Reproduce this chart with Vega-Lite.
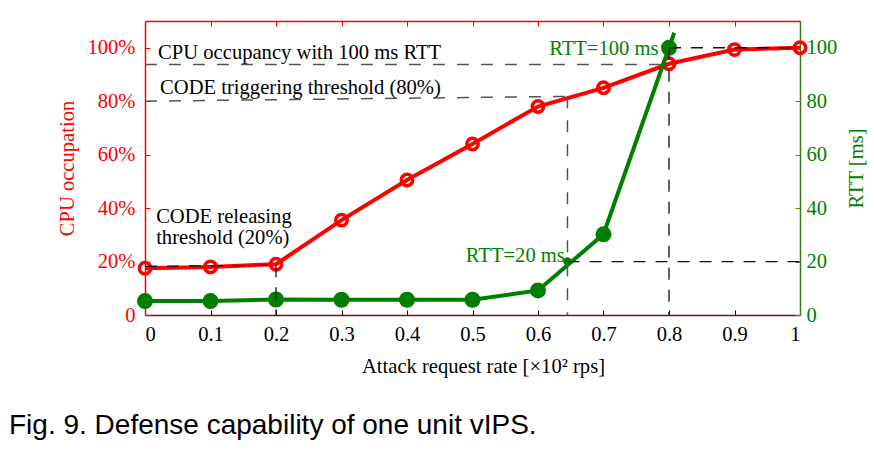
{
  "$schema": "https://vega.github.io/schema/vega-lite/v6.json",
  "width": 655,
  "height": 294,
  "autosize": {"type": "none"},
  "padding": {"left": 145, "top": 21, "right": 74, "bottom": 136},
  "config": {"view": {"stroke": null}, "font": "Liberation Serif"},
  "title": {
    "text": "Fig. 9. Defense capability of one unit vIPS.",
    "orient": "bottom",
    "anchor": "start",
    "frame": "group",
    "font": "Liberation Sans",
    "fontSize": 28,
    "fontWeight": "normal",
    "color": "#000000",
    "baseline": "alphabetic",
    "offset": 57,
    "dx": -136
  },
  "datasets": {
    "cpu": [
      {"rate": 0, "cpu": 17.5},
      {"rate": 0.1, "cpu": 18},
      {"rate": 0.2, "cpu": 19},
      {"rate": 0.3, "cpu": 35.5},
      {"rate": 0.4, "cpu": 50.5},
      {"rate": 0.5, "cpu": 64},
      {"rate": 0.6, "cpu": 78},
      {"rate": 0.7, "cpu": 85},
      {"rate": 0.8, "cpu": 94},
      {"rate": 0.9, "cpu": 99.3},
      {"rate": 1, "cpu": 100}
    ],
    "rtt": [
      {"rate": 0, "rtt": 5.2},
      {"rate": 0.1, "rtt": 5.2},
      {"rate": 0.2, "rtt": 5.8},
      {"rate": 0.3, "rtt": 5.7},
      {"rate": 0.4, "rtt": 5.7},
      {"rate": 0.5, "rtt": 5.7},
      {"rate": 0.6, "rtt": 9.2},
      {"rate": 0.7, "rtt": 30.2},
      {"rate": 0.8, "rtt": 100},
      {"rate": 0.808, "rtt": 105.6}
    ],
    "refs": [
      {"ref": "cpu100", "x": 0, "y": 93.7, "x2": 0.8, "y2": 93.7},
      {"ref": "trigger", "x": 0, "y": 80, "x2": 0.645, "y2": 81.8},
      {"ref": "trigger", "x": 0.645, "y": 81.8, "x2": 0.645, "y2": 0},
      {"ref": "release", "x": 0, "y": 18.2, "x2": 0.2, "y2": 18.6},
      {"ref": "release", "x": 0.2, "y": 18.6, "x2": 0.2, "y2": 0},
      {"ref": "rtt100", "x": 0.8, "y": 100, "x2": 1, "y2": 100},
      {"ref": "rtt100", "x": 0.8, "y": 100, "x2": 0.8, "y2": 0},
      {"ref": "rtt20", "x": 0.645, "y": 20, "x2": 1, "y2": 20}
    ],
    "notes": [
      {"kind": "black", "rate": 0.02, "value": 95.9, "label": ["CPU occupancy with 100 ms RTT"]},
      {"kind": "black", "rate": 0.023, "value": 82.8, "label": ["CODE triggering threshold (80%)"]},
      {"kind": "black", "rate": 0.017, "value": 34.4, "label": ["CODE releasing", "threshold (20%)"]},
      {"kind": "green", "rate": 0.784, "value": 97.4, "label": ["RTT=100 ms"]},
      {"kind": "green", "rate": 0.641, "value": 19.9, "label": ["RTT=20 ms"]}
    ]
  },
  "layer": [
    {
      "data": {"name": "cpu"},
      "mark": {"type": "line", "color": "#ff0000", "strokeWidth": 4},
      "encoding": {
        "x": {
          "field": "rate", "type": "quantitative",
          "scale": {"domain": [0, 1], "nice": false},
          "axis": {
            "orient": "bottom",
            "values": [0, 0.1, 0.2, 0.3, 0.4, 0.5, 0.6, 0.7, 0.8, 0.9, 1],
            "format": ".1~f",
            "grid": false,
            "tickSize": -5,
            "tickColor": "#000000",
            "domainColor": "#7a1010",
            "domainWidth": 1.5,
            "labelColor": "#000000",
            "labelFontSize": 20.6,
            "labelPadding": 14,
            "labelFont": "Liberation Serif",
            "title": "Attack request rate [×10² rps]",
            "titleFont": "Liberation Serif",
            "titleFontSize": 20.6,
            "titleFontWeight": "normal",
            "titleColor": "#000000",
            "titleX": 338,
            "titleY": 57,
            "titleBaseline": "alphabetic",
            "titleAlign": "center"
          }
        },
        "y": {
          "field": "cpu", "type": "quantitative",
          "scale": {"domain": [0, 110], "nice": false},
          "axis": {
            "orient": "left",
            "values": [0, 20, 40, 60, 80, 100],
            "labelExpr": "datum.value == 0 ? '0' : datum.value + '%'",
            "grid": false,
            "tickSize": -5,
            "tickColor": "#ff0000",
            "domainColor": "#ff0000",
            "domainWidth": 1.5,
            "labelColor": "#ff0000",
            "labelFontSize": 20.6,
            "labelPadding": 15,
            "labelFont": "Liberation Serif",
            "title": "CPU occupation",
            "titleFont": "Liberation Serif",
            "titleFontSize": 20.6,
            "titleFontWeight": "normal",
            "titleColor": "#ff0000",
            "titleAngle": -90,
            "titleX": -72,
            "titleY": 147,
            "titleBaseline": "alphabetic",
            "titleAlign": "center"
          }
        }
      }
    },
    {
      "data": {"name": "cpu"},
      "mark": {"type": "point", "shape": "circle", "filled": false, "stroke": "#ff0000", "strokeWidth": 3.5, "size": 130, "opacity": 1},
      "encoding": {
        "x": {"field": "rate", "type": "quantitative", "scale": {"domain": [0, 1], "nice": false}, "axis": null},
        "y": {"field": "cpu", "type": "quantitative", "scale": {"domain": [0, 110], "nice": false}, "axis": null}
      }
    },
    {
      "data": {"name": "rtt"},
      "mark": {"type": "line", "color": "#007f00", "strokeWidth": 4},
      "encoding": {
        "x": {
          "field": "rate", "type": "quantitative",
          "scale": {"domain": [0, 1], "nice": false},
          "axis": {
            "orient": "top",
            "values": [0, 0.1, 0.2, 0.3, 0.4, 0.5, 0.6, 0.7, 0.8, 0.9, 1],
            "labels": false,
            "grid": false,
            "tickSize": -5,
            "tickColor": "#ff0000",
            "domainColor": "#ff0000",
            "domainWidth": 1.5,
            "title": null
          }
        },
        "y": {
          "field": "rtt", "type": "quantitative",
          "scale": {"domain": [0, 110], "nice": false},
          "axis": {
            "orient": "right",
            "values": [0, 20, 40, 60, 80, 100],
            "grid": false,
            "tickSize": -5,
            "tickColor": "#6b7a1a",
            "domainColor": "#3f7a1a",
            "domainWidth": 1.5,
            "labelColor": "#008000",
            "labelFontSize": 20.6,
            "labelPadding": 11,
            "labelFont": "Liberation Serif",
            "title": "RTT [ms]",
            "titleFont": "Liberation Serif",
            "titleFontSize": 20.6,
            "titleFontWeight": "normal",
            "titleColor": "#008000",
            "titleAngle": -90,
            "titleX": 62,
            "titleY": 147,
            "titleBaseline": "alphabetic",
            "titleAlign": "center"
          }
        }
      }
    },
    {
      "data": {"name": "rtt"},
      "transform": [{"filter": "datum.rtt <= 100"}],
      "mark": {"type": "point", "shape": "circle", "filled": true, "color": "#007f00", "size": 256, "opacity": 1},
      "encoding": {
        "x": {"field": "rate", "type": "quantitative", "scale": {"domain": [0, 1], "nice": false}, "axis": null},
        "y": {"field": "rtt", "type": "quantitative", "scale": {"domain": [0, 110], "nice": false}, "axis": null}
      }
    },
    {
      "data": {"values": [{"rate": 0.645, "rtt": 20}]},
      "mark": {"type": "point", "shape": "circle", "filled": true, "color": "#007f00", "size": 70, "opacity": 1},
      "encoding": {
        "x": {"field": "rate", "type": "quantitative", "scale": {"domain": [0, 1], "nice": false}, "axis": null},
        "y": {"field": "rtt", "type": "quantitative", "scale": {"domain": [0, 110], "nice": false}, "axis": null}
      }
    },
    {
      "data": {"name": "refs"},
      "transform": [{"filter": "datum.ref == 'cpu100' || datum.ref == 'trigger'"}],
      "mark": {"type": "rule", "color": "#555555", "strokeWidth": 1.5, "strokeDash": [12, 12]},
      "encoding": {
        "x": {"field": "x", "type": "quantitative", "scale": {"domain": [0, 1], "nice": false}, "axis": null},
        "y": {"field": "y", "type": "quantitative", "scale": {"domain": [0, 110], "nice": false}, "axis": null},
        "x2": {"field": "x2"},
        "y2": {"field": "y2"}
      }
    },
    {
      "data": {"name": "refs"},
      "transform": [{"filter": "datum.ref == 'release' || datum.ref == 'rtt100' || datum.ref == 'rtt20'"}],
      "mark": {"type": "rule", "color": "#111111", "strokeWidth": 1.3, "strokeDash": [12, 10]},
      "encoding": {
        "x": {"field": "x", "type": "quantitative", "scale": {"domain": [0, 1], "nice": false}, "axis": null},
        "y": {"field": "y", "type": "quantitative", "scale": {"domain": [0, 110], "nice": false}, "axis": null},
        "x2": {"field": "x2"},
        "y2": {"field": "y2"}
      }
    },
    {
      "data": {"name": "notes"},
      "transform": [{"filter": "datum.kind == 'black'"}],
      "mark": {"type": "text", "align": "left", "baseline": "alphabetic", "font": "Liberation Serif", "fontSize": 20.6, "color": "#000000", "lineHeight": 21},
      "encoding": {
        "x": {"field": "rate", "type": "quantitative", "scale": {"domain": [0, 1], "nice": false}, "axis": null},
        "y": {"field": "value", "type": "quantitative", "scale": {"domain": [0, 110], "nice": false}, "axis": null},
        "text": {"field": "label"}
      }
    },
    {
      "data": {"name": "notes"},
      "transform": [{"filter": "datum.kind == 'green'"}],
      "mark": {"type": "text", "align": "right", "baseline": "alphabetic", "font": "Liberation Serif", "fontSize": 20.6, "color": "#008000"},
      "encoding": {
        "x": {"field": "rate", "type": "quantitative", "scale": {"domain": [0, 1], "nice": false}, "axis": null},
        "y": {"field": "value", "type": "quantitative", "scale": {"domain": [0, 110], "nice": false}, "axis": null},
        "text": {"field": "label"}
      }
    }
  ],
  "resolve": {"axis": {"x": "independent", "y": "independent"}}
}
